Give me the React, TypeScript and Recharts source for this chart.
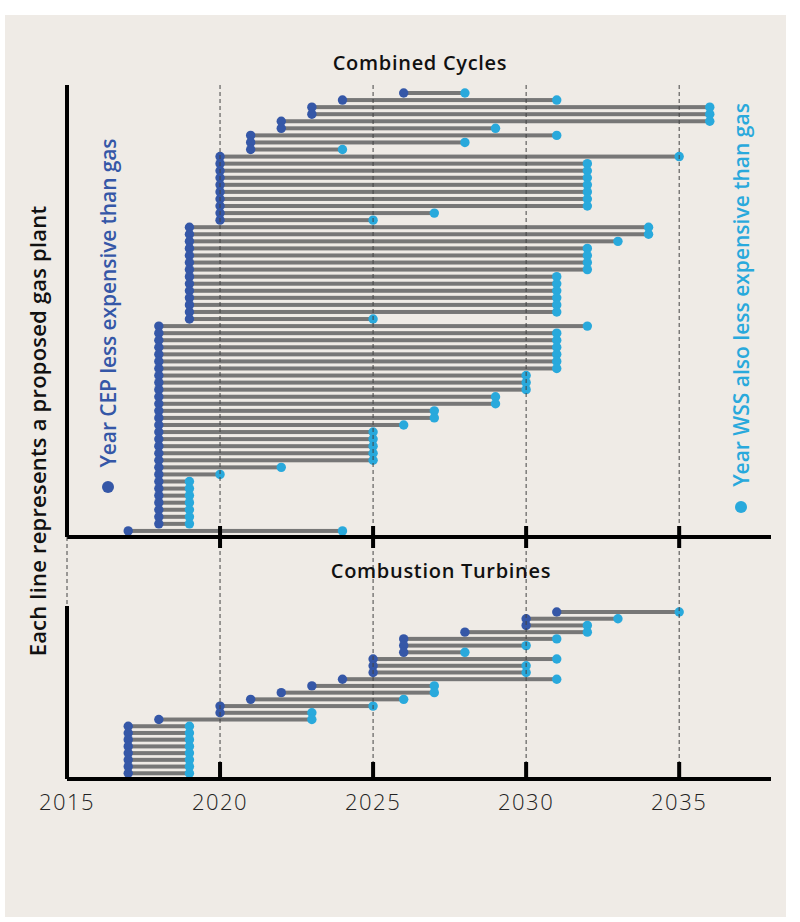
import React from 'react';
import { ComposedChart, Bar, XAxis, YAxis, ReferenceLine } from 'recharts';

// x ticks shared by both panels
const yearTicks = [2015, 2020, 2025, 2030, 2035];

// Combined Cycles, one entry per plant, top to bottom
const ccStart = [
  2026, 2024, 2023, 2023, 2022, 2022, 2021, 2021, 2021,
  2020, 2020, 2020, 2020, 2020, 2020, 2020, 2020, 2020, 2020,
  2019, 2019, 2019, 2019, 2019, 2019, 2019, 2019, 2019, 2019, 2019, 2019, 2019, 2019,
  2018, 2018, 2018, 2018, 2018, 2018, 2018, 2018, 2018, 2018,
  2018, 2018, 2018, 2018, 2018, 2018, 2018, 2018, 2018, 2018,
  2018, 2018, 2018, 2018, 2018, 2018, 2018, 2018, 2018,
  2017,
];
const ccEnd = [
  2028, 2031, 2036, 2036, 2036, 2029, 2031, 2028, 2024,
  2035, 2032, 2032, 2032, 2032, 2032, 2032, 2032, 2027, 2025,
  2034, 2034, 2033, 2032, 2032, 2032, 2032, 2031, 2031, 2031, 2031, 2031, 2031, 2025,
  2032, 2031, 2031, 2031, 2031, 2031, 2031, 2030, 2030, 2030,
  2029, 2029, 2027, 2027, 2026, 2025, 2025, 2025, 2025, 2025,
  2022, 2020, 2019, 2019, 2019, 2019, 2019, 2019, 2019,
  2024,
];

// Combustion Turbines, top to bottom
const ctStart = [
  2031, 2030, 2030, 2028, 2026, 2026, 2026, 2025, 2025, 2025,
  2024, 2023, 2022, 2021, 2020, 2020, 2018,
  2017, 2017, 2017, 2017, 2017, 2017, 2017, 2017,
];
const ctEnd = [
  2035, 2033, 2032, 2032, 2031, 2030, 2028, 2031, 2030, 2030,
  2031, 2027, 2027, 2026, 2025, 2023, 2023,
  2019, 2019, 2019, 2019, 2019, 2019, 2019, 2019,
];

const CEP_BLUE = '#3557a7';
const WSS_BLUE = '#29a9dc';
const LINE_GRAY = '#777777';
const FONT = '"Open Sans", "Noto Sans", sans-serif';

const toRows = (start: number[], end: number[]) =>
  start.map((s, i) => ({ id: `p${i}`, span: [s, end[i]] }));

const ccRows = toRows(ccStart, ccEnd);
const ctRows = toRows(ctStart, ctEnd);

function Dumbbell(props: any) {
  const { x, y, width, height } = props;
  const cy = y + height / 2;
  return (
    <g>
      <rect x={x} y={cy - 2} width={width} height={4} fill={LINE_GRAY} />
      <circle cx={x} cy={cy} r={4.7} fill={CEP_BLUE} />
      <circle cx={x + width} cy={cy} r={4.7} fill={WSS_BLUE} />
    </g>
  );
}

// tick marks of the upper panel, with the dashed guide running down through the gap
function TopTick({ x, y, payload }: any) {
  return (
    <g>
      <line x1={x} x2={x} y1={y} y2={y + 70} stroke="#444" strokeWidth={1} strokeDasharray="4 3" />
      {payload.value !== 2015 && <rect x={x - 2} y={y - 11} width={4} height={22} fill="#000" />}
    </g>
  );
}

function BottomTick({ x, y, payload }: any) {
  return (
    <g>
      {payload.value !== 2015 && <rect x={x - 2} y={y - 17} width={4} height={17} fill="#000" />}
      <text
        x={x}
        y={y + 31}
        textAnchor="middle"
        fontSize={22}
        fontWeight={300}
        letterSpacing={1.5}
        fill="#222"
        fontFamily={FONT}
      >
        {payload.value}
      </text>
    </g>
  );
}

function Panel({
  rows,
  height,
  top,
  bottom,
  padTop,
  padBottom,
  tick,
}: {
  rows: { id: string; span: number[] }[];
  height: number;
  top: number;
  bottom: number;
  padTop: number;
  padBottom: number;
  tick: any;
}) {
  return (
    <ComposedChart
      width={800}
      height={height}
      data={rows}
      layout="vertical"
      margin={{ top, right: 29, left: 57, bottom }}
    >
      {yearTicks.slice(1).map((yr) => (
        <ReferenceLine key={yr} x={yr} stroke="#444" strokeDasharray="4 3" />
      ))}
      <XAxis
        type="number"
        domain={[2015, 2038]}
        ticks={yearTicks}
        interval={0}
        allowDataOverflow
        height={20}
        axisLine={{ stroke: '#000', strokeWidth: 4 }}
        tickLine={false}
        tickSize={0}
        tickMargin={0}
        tick={tick}
      />
      <YAxis
        type="category"
        dataKey="id"
        width={10}
        tick={false}
        tickLine={false}
        axisLine={{ stroke: '#000', strokeWidth: 4 }}
        padding={{ top: padTop, bottom: padBottom }}
      />
      <ReferenceLine x={2015} stroke="#bbb" strokeDasharray="3 3" />
      <Bar dataKey="span" barSize={4} shape={Dumbbell} isAnimationActive={false} />
    </ComposedChart>
  );
}

const rotated = (
  cx: number,
  cy: number,
  color: string,
  size: number,
  spacing: number,
  weight: number
) =>
  ({
    position: 'absolute',
    left: cx - 300,
    top: cy - 13,
    width: 600,
    height: 26,
    lineHeight: '26px',
    textAlign: 'center',
    whiteSpace: 'nowrap',
    transform: 'rotate(-90deg)',
    color,
    fontSize: size,
    letterSpacing: spacing,
    fontWeight: weight,
    fontFamily: FONT,
  }) as React.CSSProperties;

const dot = (color: string): React.CSSProperties => ({
  display: 'inline-block',
  width: 12,
  height: 12,
  borderRadius: '50%',
  background: color,
  marginRight: 14,
  verticalAlign: 'middle',
  position: 'relative',
  top: -2,
});

const title = (cx: number, cy: number): React.CSSProperties => ({
  position: 'absolute',
  left: cx - 200,
  top: cy - 12,
  width: 400,
  lineHeight: '24px',
  textAlign: 'center',
  fontSize: 20,
  letterSpacing: 0.7,
  fontWeight: 600,
  fontFamily: FONT,
  color: '#111',
});

export default function App() {
  return (
    <div
      style={{
        position: 'absolute',
        left: 0,
        top: 0,
        width: 800,
        height: 922,
        background: '#fff',
        overflow: 'hidden',
      }}
    >
      <div
        style={{
          position: 'absolute',
          left: 5,
          top: 15,
          width: 781,
          height: 902,
          background: '#efebe6',
        }}
      />
      <div style={{ position: 'absolute', left: 0, top: 0 }}>
        <Panel rows={ccRows} height={620} top={85} bottom={63} padTop={4} padBottom={3} tick={TopTick} />
      </div>
      <div style={{ position: 'absolute', left: 0, top: 0 }}>
        <Panel rows={ctRows} height={922} top={606} bottom={123} padTop={3} padBottom={2} tick={BottomTick} />
      </div>
      <div style={title(420, 63)}>Combined Cycles</div>
      <div style={title(441, 571)}>Combustion Turbines</div>
      <div style={rotated(37, 431, '#111', 22, 0.2, 600)}>Each line represents a proposed gas plant</div>
      <div style={rotated(108, 316, CEP_BLUE, 21, -0.1, 600)}>
        <span style={dot(CEP_BLUE)} />
        Year CEP less expensive than gas
      </div>
      <div style={rotated(741, 308, WSS_BLUE, 21, 0, 600)}>
        <span style={dot(WSS_BLUE)} />
        Year WSS also less expensive than gas
      </div>
    </div>
  );
}
